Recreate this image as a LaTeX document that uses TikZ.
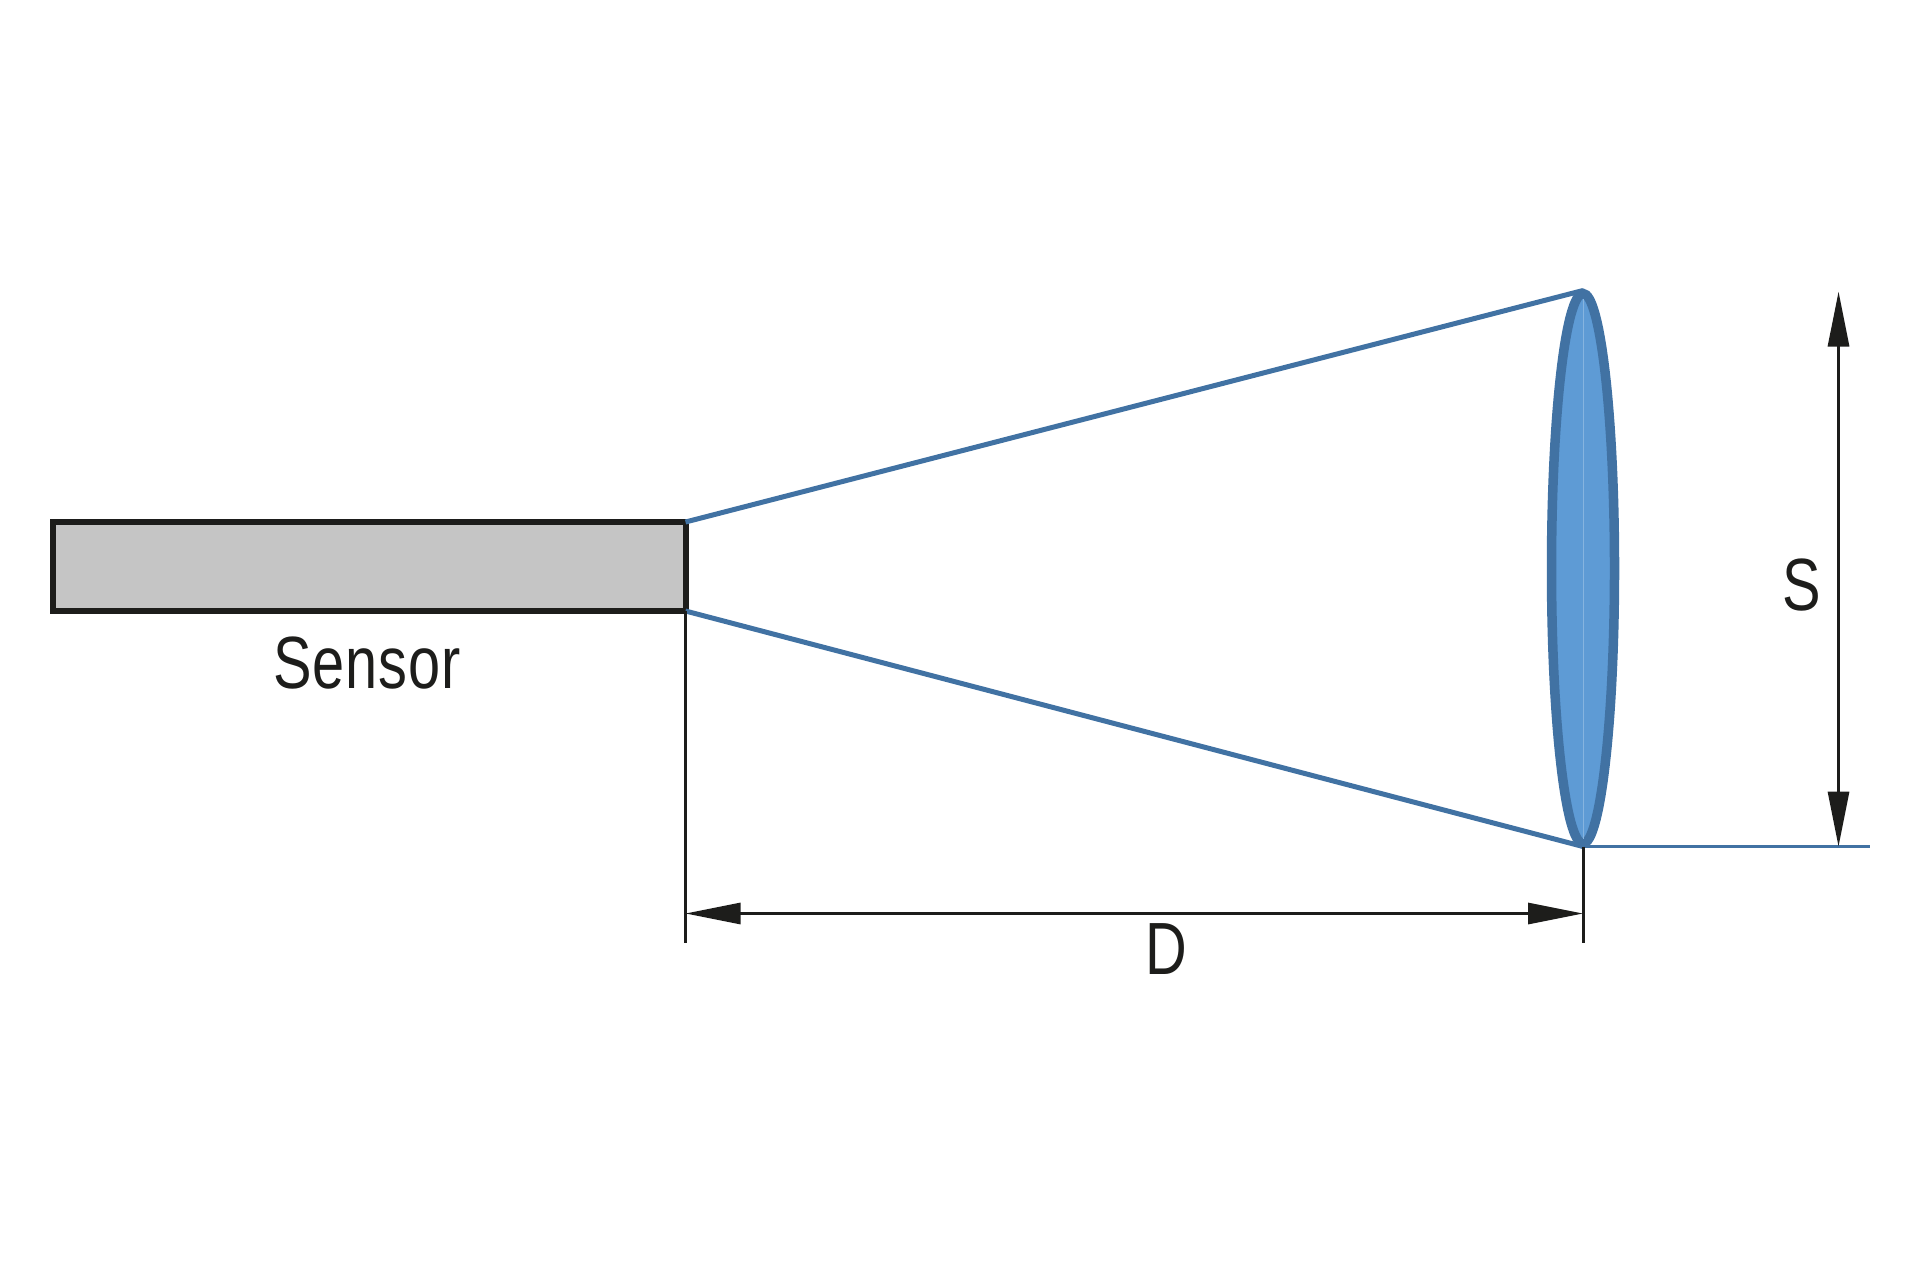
\documentclass[tikz,border=0pt]{standalone}
\usepackage{tikz}
\usepackage{xcolor}
\usepackage{fontspec}
\setmainfont[FakeStretch=0.78,LetterSpace=1]{Liberation Sans}
\usetikzlibrary{arrows.meta}
\usetikzlibrary{shapes.geometric}
\definecolor{lensblue}{HTML}{5E9BD5}
\definecolor{rayblue}{HTML}{4172A3}
\definecolor{inkblack}{HTML}{1D1D1B}
\definecolor{sensorgray}{HTML}{C5C5C5}
\tikzset{
  sensor/.style={draw=inkblack,fill=sensorgray,line width=3pt,rectangle,
    minimum width=316.5pt,minimum height=44.5pt,inner sep=0pt,outer sep=0pt},
  lens/.style={draw=rayblue,fill=lensblue,line width=4.75pt,ellipse,
    minimum width=31.5pt,minimum height=275pt,inner sep=0pt,outer sep=0pt},
  label/.style={text=inkblack,font=\fontsize{37}{42}\selectfont,inner sep=0pt},
  ray/.style={draw=rayblue,line width=2.5pt},
  base/.style={draw=rayblue,line width=1.5pt},
  dim/.style={draw=inkblack,line width=1.5pt},
  dimarrow/.style={draw=inkblack,line width=1.5pt,
    {Triangle[length=27.5pt,width=10.5pt]}-{Triangle[length=27.5pt,width=10.5pt]}},
}
\begin{document}
\begin{tikzpicture}[x=.5pt,y=-.5pt]
  \useasboundingbox (0,0) rectangle (1920,1280);
  \draw (369,566.5) node (sn) [sensor] {};
  \draw (1583,568.5) node (ln) [lens] {};
  \draw (367,663) node (st) [label] {Sensor}
    (1166,949) node (dt) [label] {D}
    (1802,585) node (ht) [label] {S}
    ;
  \path (node cs:name=ln,anchor=north) +(0,-3) coordinate (lnt);
  \path (node cs:name=ln,anchor=south) +(0,3) coordinate (lnb);
  \path (node cs:name=ln,anchor=north) +(0,5) coordinate (lni);
  \path (node cs:name=ln,anchor=south) +(0,-5) coordinate (lno);
  \draw[lensblue!75!white,line width=.5pt] (lni) -- (lno);

  \draw[ray] (sn.north east) -- (lnt);
  \draw[ray] (sn.south east) -- (lnb);

  \path (node cs:name=ln,anchor=south) +(287,3) coordinate (bs);
  \draw[base] (lnb) -- (bs);

  \path (node cs:name=sn,anchor=south east) +(0,332) coordinate (dl);
  \path (node cs:name=ln,anchor=south) +(0,99) coordinate (dr);
  \draw[dim] (sn.south east) -- (dl);
  \draw[dim] (lnb) -- (dr);

  \path (node cs:name=sn,anchor=south east) +(0,302.5) coordinate (da);
  \path (node cs:name=ln,anchor=south) +(0,70) coordinate (db);
  \draw[dimarrow] (da) -- (db);

  \path (node cs:name=ln,anchor=north) +(255.5,-2) coordinate (sa);
  \path (node cs:name=ln,anchor=south) +(255.5,3) coordinate (sb);
  \draw[dimarrow] (sa) -- (sb);
\end{tikzpicture}
\end{document}
